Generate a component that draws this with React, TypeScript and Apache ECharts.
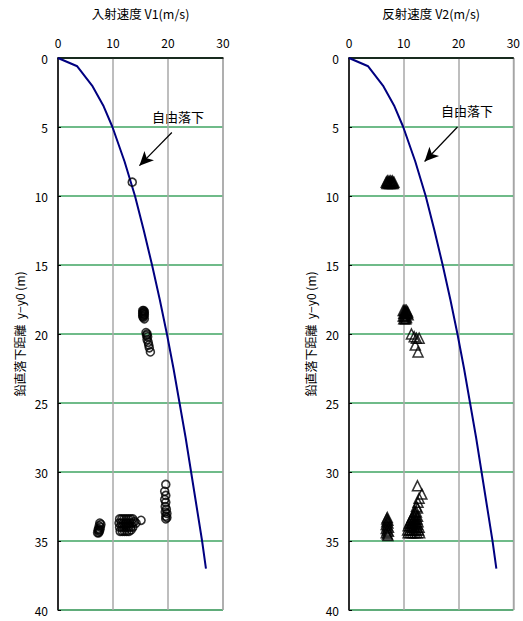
import React, { useEffect, useRef } from "react";
import * as echarts from "echarts";

// Free-fall reference curve: depth (m) and speed (m/s)
const fallDepth = [0, 0.6, 2, 3.5, 5, 7.5, 10, 12.5, 15, 17.5, 20, 22.5, 25, 27.5, 30, 32.5, 35, 37];
const fallSpeed = [0, 3.5, 6.2, 8.3, 9.9, 12.1, 14.0, 15.6, 17.1, 18.5, 19.8, 21.0, 22.1, 23.2, 24.2, 25.2, 26.2, 26.9];

// Incident speed V1 measurements: [speed m/s, depth m]
const v1Points: [number, number][] = [
  [13.5, 9.0],
  [15.4, 18.3], [15.6, 18.3], [15.5, 18.4], [15.7, 18.4], [15.4, 18.5], [15.6, 18.5],
  [15.5, 18.6], [15.7, 18.6], [15.4, 18.7], [15.6, 18.7], [15.5, 18.8], [15.7, 18.9],
  [16.0, 19.9], [16.2, 20.0], [16.1, 20.1], [16.3, 20.2], [16.2, 20.4], [16.4, 20.6],
  [16.5, 20.8], [16.6, 21.0], [16.8, 21.3],
  [7.6, 33.7], [7.8, 33.8], [7.5, 33.9], [7.7, 34.0], [7.4, 34.1], [7.6, 34.2],
  [7.3, 34.2], [7.5, 34.3], [7.2, 34.4], [7.4, 34.4],
  [11.2, 33.4], [11.6, 33.4], [12.0, 33.4], [12.4, 33.4], [12.8, 33.4], [13.2, 33.4], [13.6, 33.4],
  [11.1, 33.7], [11.5, 33.7], [11.9, 33.7], [12.3, 33.7], [12.7, 33.7], [13.1, 33.7], [13.5, 33.7], [13.9, 33.6],
  [11.2, 34.0], [11.6, 34.0], [12.0, 34.0], [12.4, 34.0], [12.8, 34.0], [13.2, 34.0], [13.6, 34.0],
  [11.3, 34.3], [11.7, 34.3], [12.1, 34.3], [12.5, 34.3], [12.9, 34.3], [13.3, 34.2], [14.2, 33.7],
  [15.1, 33.5],
  [19.6, 30.9], [19.4, 31.4], [19.6, 31.7], [19.4, 32.0], [19.6, 32.2], [19.5, 32.5],
  [19.7, 32.7], [19.5, 32.9], [19.8, 33.0], [19.6, 33.2], [19.8, 33.3], [19.6, 33.4],
];

// Reflected speed V2 measurements: [speed m/s, depth m]
const v2Points: [number, number][] = [
  [6.8, 9.0], [7.0, 8.9], [7.2, 9.1], [7.4, 9.0], [7.6, 8.9], [7.8, 9.1], [8.0, 9.0], [8.2, 9.0],
  [6.9, 9.1], [7.1, 9.0], [7.3, 8.9], [7.5, 9.1], [7.7, 9.0], [7.9, 8.9], [8.1, 9.1],
  [9.9, 18.3], [10.1, 18.3], [10.3, 18.3], [10.5, 18.3], [10.7, 18.4],
  [10.0, 18.5], [10.2, 18.5], [10.4, 18.5], [10.6, 18.5], [10.8, 18.6],
  [9.9, 18.7], [10.1, 18.7], [10.3, 18.7], [10.5, 18.8], [10.0, 18.9], [10.2, 18.9], [10.4, 18.9],
  [11.4, 20.0], [11.9, 20.2], [12.3, 20.3], [12.8, 20.3], [12.1, 20.8], [12.6, 21.3],
  [7.0, 33.3], [6.9, 33.4], [7.1, 33.5], [6.9, 33.6], [7.1, 33.7], [6.8, 33.8], [7.0, 33.9],
  [7.2, 34.0], [6.8, 34.1], [7.0, 34.2], [7.2, 34.3], [6.8, 34.4], [7.0, 34.5], [7.1, 34.6],
  [12.5, 31.0], [13.3, 31.6], [12.8, 31.9], [12.6, 32.2], [12.3, 32.5], [12.5, 32.6],
  [12.0, 32.9], [12.3, 32.9], [11.8, 33.1], [12.2, 33.1], [12.5, 33.2],
  [11.5, 33.3], [11.8, 33.4], [12.1, 33.4], [12.4, 33.4], [11.3, 33.5], [12.6, 33.6],
  [11.0, 33.7], [11.4, 33.7], [11.8, 33.7], [12.2, 33.7], [12.5, 33.8],
  [10.8, 33.9], [11.2, 33.9], [11.6, 34.0], [12.0, 34.0], [12.4, 34.0], [12.8, 34.0],
  [10.7, 34.2], [11.1, 34.2], [11.5, 34.2], [11.9, 34.2], [12.3, 34.2], [12.7, 34.2],
  [10.8, 34.4], [11.2, 34.4], [11.6, 34.4], [12.0, 34.4], [12.4, 34.4], [12.9, 34.4],
];

const xTicks = [0, 10, 20, 30];
const yTicks = [0, 5, 10, 15, 20, 25, 30, 35, 40];

const panelTitles = ["入射速度 V1(m/s)", "反射速度 V2(m/s)"];
const depthLabel = "鉛直落下距離  y−y0 (m)";
const curveLabel = "自由落下";

const FONT = "'Noto Sans CJK JP', 'Noto Sans', sans-serif";

export default function App() {
  const ref = useRef<HTMLDivElement>(null);

  useEffect(() => {
    if (!ref.current) return;
    const chart = echarts.init(ref.current, undefined, { renderer: "svg" });

    const curve = fallSpeed.map((v, i) => [v, fallDepth[i]]);

    const grids = [
      { left: 58, top: 58, width: 165, height: 552 },
      { left: 349, top: 58, width: 168, height: 552 },
    ].map((g) => ({ ...g, show: true, borderColor: "#888", borderWidth: 1, backgroundColor: "transparent" }));

    const xAxes = [0, 1].map((i) => ({
      type: "value" as const,
      gridIndex: i,
      position: "top" as const,
      min: xTicks[0],
      max: xTicks[xTicks.length - 1],
      interval: 10,
      name: panelTitles[i],
      nameLocation: "middle" as const,
      nameGap: 38,
      nameTextStyle: { color: "#000", fontSize: 12.5, fontFamily: FONT },
      axisLine: { show: true, lineStyle: { color: "#000", width: 1.5 } },
      axisTick: { show: false },
      axisLabel: { color: "#000", fontSize: 12, fontFamily: FONT, margin: 10 },
      splitLine: { show: true, lineStyle: { color: "#a8a8a8", width: 1.5 } },
    }));

    const yAxes = [0, 1].map((i) => ({
      type: "value" as const,
      gridIndex: i,
      inverse: true,
      min: yTicks[0],
      max: yTicks[yTicks.length - 1],
      interval: 5,
      name: depthLabel,
      nameLocation: "middle" as const,
      nameRotate: 90,
      nameGap: 33,
      nameTextStyle: { color: "#000", fontSize: 12, fontFamily: FONT },
      axisLine: { show: true, lineStyle: { color: "#000", width: 1.5 } },
      axisTick: { show: true, length: 3, inside: true, lineStyle: { color: "#000" } },
      axisLabel: { color: "#000", fontSize: 12, fontFamily: FONT, margin: 10 },
      splitLine: { show: true, lineStyle: { color: "#3fa562", width: 1.5 } },
    }));

    const arrowLine = (from: number[], to: number[]) => ({
      silent: true,
      symbol: ["none", "arrow"],
      symbolSize: [10, 14],
      label: { show: false },
      lineStyle: { color: "#000", width: 1.2, type: "solid" as const },
      data: [[{ coord: from }, { coord: to }]],
    });

    chart.setOption({
      animation: false,
      grid: grids,
      xAxis: xAxes,
      yAxis: yAxes,
      graphic: [
        { type: "text", left: 178 - 26, top: 110, style: { text: curveLabel, fontSize: 13, fontFamily: FONT, fill: "#000" } },
        { type: "text", left: 467 - 26, top: 104, style: { text: curveLabel, fontSize: 13, fontFamily: FONT, fill: "#000" } },
      ],
      series: [
        {
          type: "line",
          xAxisIndex: 0,
          yAxisIndex: 0,
          data: curve,
          showSymbol: false,
          lineStyle: { color: "#000080", width: 2 },
          z: 3,
          markLine: arrowLine([20.7, 5.4], [14.8, 7.8]),
        },
        {
          type: "scatter",
          xAxisIndex: 0,
          yAxisIndex: 0,
          data: v1Points,
          symbol: "circle",
          symbolSize: 8,
          itemStyle: { color: "transparent", borderColor: "#000", borderWidth: 1.6 },
          z: 4,
        },
        {
          type: "line",
          xAxisIndex: 1,
          yAxisIndex: 1,
          data: curve,
          showSymbol: false,
          lineStyle: { color: "#000080", width: 2 },
          z: 3,
          markLine: arrowLine([19.8, 5.0], [13.8, 7.5]),
        },
        {
          type: "scatter",
          xAxisIndex: 1,
          yAxisIndex: 1,
          data: v2Points,
          symbol: "triangle",
          symbolSize: [10, 10],
          itemStyle: { color: "transparent", borderColor: "#000", borderWidth: 1.5 },
          z: 4,
        },
      ],
    });

    return () => chart.dispose();
  }, []);

  return <div ref={ref} style={{ width: 523, height: 621, position: "absolute", left: 0, top: 0 }} />;
}
